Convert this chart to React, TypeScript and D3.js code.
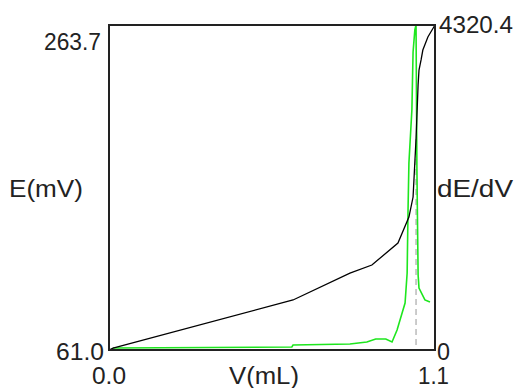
import React from "react";
import * as d3 from "d3";

const volume = [0, 0.0135, 0.621, 0.813, 0.887, 0.975, 1.012, 1.026, 1.036, 1.043, 1.046, 1.053, 1.059, 1.076, 1.1];
const potential = [61.0, 62.2, 92.2, 109.0, 114.0, 127.7, 143.9, 156.4, 192.6, 226.5, 235.6, 241.9, 248.1, 256.2, 263.7];

const derivVolume = [0.0135, 0.617, 0.621, 0.813, 0.870, 0.900, 0.934, 0.955, 0.972, 0.989, 0.999, 1.006, 1.009, 1.012, 1.022, 1.026, 1.032, 1.036, 1.039, 1.043, 1.046, 1.066, 1.083];
const derivValue = [26.6, 40, 66, 80, 106, 146, 146, 106, 266, 492, 625, 1024, 1861, 2486, 3191, 3962, 4254, 4320.4, 2400, 1000, 824, 665, 638];

const equivalenceV = 1.036;
const equivalenceE = 192.6;

const xDomain = [0.0, 1.1];
const eDomain = [61.0, 263.7];
const dDomain = [0, 4320.4];

const W = 514;
const H = 388;
const L = 109, R = 435, T = 25, B = 350;

export default function App() {
  const x = d3.scaleLinear().domain(xDomain).range([L, R]);
  const yE = d3.scaleLinear().domain(eDomain).range([B, T]);
  const yD = d3.scaleLinear().domain(dDomain).range([B, T]);

  const lineE = d3.line<number>().x((_, i) => x(volume[i])).y((d) => yE(d));
  const lineD = d3.line<number>().x((_, i) => x(derivVolume[i])).y((d) => yD(d));

  const font = "'Liberation Sans', Arial, sans-serif";
  const fs = 23;
  const tc = "#222";

  const T1 = (props: { x: number; y: number; w: number; s: string }) => (
    <text x={props.x} y={props.y} textLength={props.w} lengthAdjust="spacingAndGlyphs">{props.s}</text>
  );

  return (
    <svg width={W} height={H} style={{ position: "absolute", left: 0, top: 0, background: "#fff" }}>
      <rect x={0} y={0} width={W} height={H} fill="#fff" />
      <line x1={x(equivalenceV)} x2={x(equivalenceV)} y1={yE(equivalenceE)} y2={B} stroke="#aaa" strokeWidth={1.2} strokeDasharray="6,4" />
      <path d={lineD(derivValue) || ""} fill="none" stroke="#1ee61e" strokeWidth={1.6} />
      <path d={lineE(potential) || ""} fill="none" stroke="#000" strokeWidth={1.3} />
      <path d={`M${L},${B}V${T}H${R}V${B}Z`} fill="none" stroke="#222" strokeWidth={2} />
      <g fontFamily={font} fontSize={fs} fill={tc}>
        <T1 x={44} y={50} w={57} s={eDomain[1].toFixed(1)} />
        <T1 x={56} y={360} w={48} s={eDomain[0].toFixed(1)} />
        <T1 x={92} y={384} w={34} s={xDomain[0].toFixed(1)} />
        <T1 x={418} y={384} w={31} s={xDomain[1].toFixed(1)} />
        <T1 x={439} y={33} w={74} s={dDomain[1].toFixed(1)} />
        <T1 x={437} y={360} w={13} s={String(dDomain[0])} />
        <T1 x={9} y={197} w={74} s="E(mV)" />
        <T1 x={437} y={197} w={76} s="dE/dV" />
        <T1 x={229} y={384} w={70} s="V(mL)" />
      </g>
    </svg>
  );
}
